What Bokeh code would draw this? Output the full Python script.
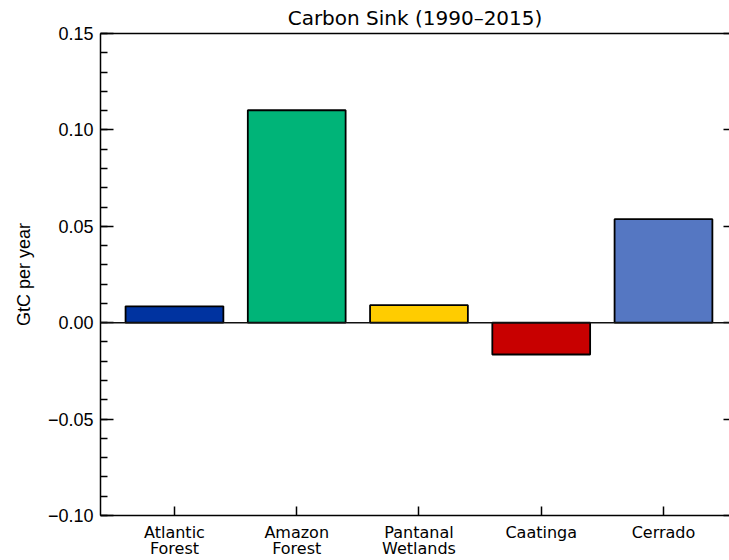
from bokeh.plotting import figure
from bokeh.models import Range1d, FixedTicker, LinearAxis, CustomJSTickFormatter, Span, ColumnDataSource
from bokeh.embed import file_html
from bokeh.resources import INLINE

# Net carbon sink by Brazilian biome, 1990-2015 (GtC per year)
categories = ["Atlantic Forest", "Amazon Forest", "Pantanal Wetlands", "Caatinga", "Cerrado"]
sink = [0.0085, 0.1102, 0.0091, -0.0165, 0.0537]
colors = ["#0033a0", "#00b478", "#ffcc00", "#c80000", "#5577c2"]
y_ticks = [-0.10, -0.05, 0.0, 0.05, 0.10, 0.15]

positions = list(range(len(categories)))
src = ColumnDataSource(dict(x=positions, top=sink, color=colors))

p = figure(width=729, height=560, output_backend="svg", toolbar_location=None,
           x_range=Range1d(-0.605, 4.54), y_range=Range1d(-0.10, 0.15),
           min_border_left=100, min_border_right=0, min_border_top=0, min_border_bottom=0,
           x_axis_location=None, y_axis_location=None)
p.background_fill_color = "white"
p.border_fill_color = "white"
p.outline_line_color = None
p.xgrid.visible = False
p.ygrid.visible = False

p.title.text = "Carbon Sink (1990\u20132015)"
p.title.align = "center"
p.title.text_font = "DejaVu Sans"
p.title.text_font_style = "normal"
p.title.text_font_size = "20px"
p.title.text_color = "black"
p.title.standoff = 7
p.title.offset = 0

tick_fmt = CustomJSTickFormatter(code="""
    const s = Math.abs(tick).toFixed(2);
    return (tick < -1e-9 ? "\u2212" : "") + s;
""")

# left value axis
ly = LinearAxis(ticker=FixedTicker(ticks=y_ticks,
                                   minor_ticks=[round(-0.10 + 0.01 * i, 2) for i in range(26)]),
                formatter=tick_fmt)
ly.axis_label = "GtC per year"
ly.axis_label_text_font = "Liberation Sans"
ly.axis_label_text_font_style = "normal"
ly.axis_label_text_font_size = "18px"
ly.axis_label_text_color = "black"
ly.axis_label_standoff = 11
ly.major_label_text_font = "Liberation Sans"
ly.major_label_text_font_size = "18px"
ly.major_label_text_color = "black"
ly.major_label_standoff = 7
ly.major_tick_in = 13
ly.major_tick_out = 0
ly.minor_tick_in = 7
ly.minor_tick_out = 0
ly.axis_line_color = "black"
ly.major_tick_line_color = "black"
ly.minor_tick_line_color = "black"
ly.axis_line_width = 1.5
ly.major_tick_line_width = 1.5
ly.minor_tick_line_width = 1.5
p.add_layout(ly, "left")

# right side: short inward major ticks only
ry = LinearAxis(ticker=FixedTicker(ticks=y_ticks, minor_ticks=[]),
                formatter=CustomJSTickFormatter(code="return '';"))
ry.axis_line_color = None
ry.major_tick_in = 6
ry.major_tick_out = 0
ry.minor_tick_in = 0
ry.minor_tick_out = 0
ry.major_label_standoff = 0
ry.major_label_text_font_size = "0px"
ry.major_tick_line_color = "black"
ry.major_tick_line_width = 1.5
p.add_layout(ry, "right")

# top frame line
tx = LinearAxis(ticker=FixedTicker(ticks=[], minor_ticks=[]),
                formatter=CustomJSTickFormatter(code="return '';"))
tx.major_tick_in = 0
tx.major_tick_out = 0
tx.major_label_standoff = 0
tx.major_label_text_font_size = "0px"
tx.axis_line_color = "black"
tx.axis_line_width = 1.5
p.add_layout(tx, "above")

# bottom category axis
bx = LinearAxis(ticker=FixedTicker(ticks=positions, minor_ticks=[]))
bx.major_label_overrides = {i: c.replace(" ", "\n") for i, c in zip(positions, categories)}
bx.major_label_text_font = "DejaVu Sans"
bx.major_label_text_font_size = "16px"
bx.major_label_text_color = "black"
bx.major_label_text_line_height = 0.85
bx.major_label_standoff = 7
bx.major_tick_in = 9
bx.major_tick_out = 0
bx.minor_tick_in = 0
bx.minor_tick_out = 0
bx.axis_line_color = "black"
bx.major_tick_line_color = "black"
bx.axis_line_width = 1.5
bx.major_tick_line_width = 1.5
p.add_layout(bx, "below")

p.vbar(x="x", top="top", bottom=0, width=0.8, fill_color="color",
       line_color="black", line_width=1.8, source=src)

p.add_layout(Span(location=0, dimension="width", line_color="#111111", line_width=1.5))

open("out.html", "w").write(file_html(p, INLINE))
